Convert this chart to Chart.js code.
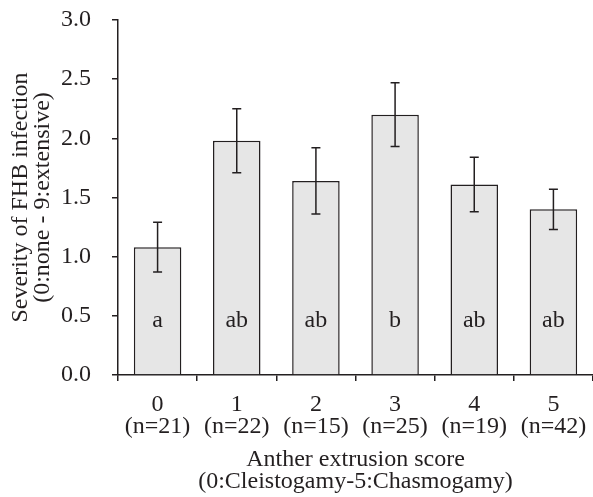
<!DOCTYPE html>
<html>
<head>
<meta charset="utf-8">
<script src="https://cdn.jsdelivr.net/npm/chart.js@4/dist/chart.umd.min.js"></script>
<style>
  body { margin: 0; background: #fff; }
  #wrap { width: 593px; height: 497px; position: relative; }
</style>
</head>
<body>
<div id="wrap"><canvas id="fhbChart"></canvas></div>
<script>
const scores = ['0', '1', '2', '3', '4', '5'];
const sampleSizes = ['(n=21)', '(n=22)', '(n=15)', '(n=25)', '(n=19)', '(n=42)'];
const severity = [1.08, 1.98, 1.64, 2.20, 1.61, 1.40];
const stdErr = [0.21, 0.27, 0.28, 0.27, 0.23, 0.17];
const groupLetters = ['a', 'ab', 'ab', 'b', 'ab', 'ab'];

const ink = '#231f20';
const serif = "'Liberation Serif', 'Times New Roman', serif";

// error bars + significance letters, drawn after the bars
const extrasPlugin = {
    id: 'extras',
    afterDatasetsDraw(chart) {
        const ctx = chart.ctx;
        const y = chart.scales.y;
        const meta = chart.getDatasetMeta(0);
        ctx.save();
        ctx.strokeStyle = ink;
        ctx.lineWidth = 1.5;
        meta.data.forEach((bar, i) => {
            const top = y.getPixelForValue(severity[i] + stdErr[i]);
            const bot = y.getPixelForValue(severity[i] - stdErr[i]);
            const cap = 4.5;
            ctx.beginPath();
            ctx.moveTo(bar.x, top); ctx.lineTo(bar.x, bot);
            ctx.moveTo(bar.x - cap, top); ctx.lineTo(bar.x + cap, top);
            ctx.moveTo(bar.x - cap, bot); ctx.lineTo(bar.x + cap, bot);
            ctx.stroke();
        });
        ctx.fillStyle = ink;
        ctx.font = '24px ' + serif;
        ctx.textAlign = 'center';
        ctx.textBaseline = 'middle';
        meta.data.forEach((bar, i) => {
            ctx.fillText(groupLetters[i], bar.x, y.getPixelForValue(0.46));
        });
        ctx.restore();
    }
};

new Chart(document.getElementById('fhbChart'), {
    type: 'bar',
    data: {
        labels: scores,
        datasets: [{
            data: severity,
            backgroundColor: '#e6e6e6',
            borderColor: ink,
            borderWidth: 1.5,
            barPercentage: 0.6,
            categoryPercentage: 1.0
        }]
    },
    options: {
        responsive: true,
        maintainAspectRatio: false,
        animation: false,
        layout: { padding: { top: 20, left: 0, right: 0, bottom: 0 } },
        plugins: { legend: { display: false }, tooltip: { enabled: false } },
        scales: {
            x: {
                afterFit: (s) => { s.height = 122; s.paddingLeft = 0; s.paddingRight = 0; },
                grid: { offset: true, drawOnChartArea: false, tickLength: 6, color: ink, lineWidth: 1.5 },
                border: { color: ink, width: 1.5 },
                ticks: {
                    color: ink,
                    padding: 13,
                    font: { family: serif, size: 24, lineHeight: '21.5px' },
                    callback: (v, i) => [scores[i], sampleSizes[i]]
                },
                title: {
                    display: true,
                    text: ['Anther extrusion score', '(0:Cleistogamy-5:Chasmogamy)'],
                    color: ink,
                    font: { family: serif, size: 24, lineHeight: '21.5px' },
                    padding: { top: 0, bottom: 5 }
                }
            },
            y: {
                min: 0,
                max: 3,
                // fixed width, and no extra room above the top tick label
                afterFit: (s) => { s.width = 118; s.paddingTop = 0; s.paddingBottom = 0; },
                grid: { drawOnChartArea: false, tickLength: 6, color: ink, lineWidth: 1.5 },
                border: { color: ink, width: 1.5 },
                ticks: {
                    stepSize: 0.5,
                    color: ink,
                    padding: 21,
                    font: { family: serif, size: 24 },
                    callback: (v) => v.toFixed(1)
                },
                title: {
                    display: true,
                    text: ['Severity of FHB infection', '(0:none - 9:extensive)'],
                    color: ink,
                    font: { family: serif, size: 24, lineHeight: '21.5px' },
                    padding: { top: 10, bottom: 0 }
                }
            }
        }
    },
    plugins: [extrasPlugin]
});
</script>
</body>
</html>
